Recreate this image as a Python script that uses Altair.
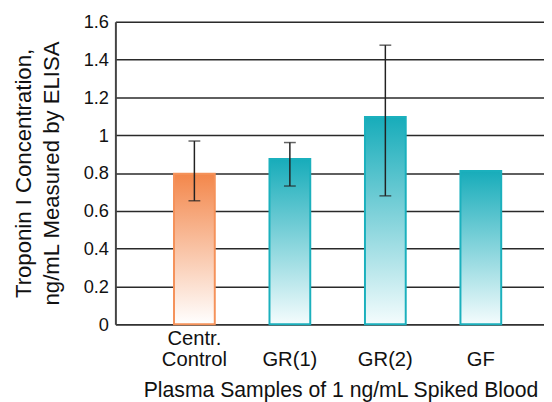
import altair as alt
import pandas as pd

categories = ["Centr. Control", "GR(1)", "GR(2)", "GF"]
groups = ["control", "sample", "sample", "sample"]
values = [0.796, 0.874, 1.096, 0.811]
err_low = [0.653, 0.731, 0.679, None]
err_high = [0.969, 0.961, 1.476, None]
y_ticks = [0, 0.2, 0.4, 0.6, 0.8, 1.0, 1.2, 1.4, 1.6]

df = pd.DataFrame({
    "sample": categories,
    "group": groups,
    "value": values,
    "lo": err_low,
    "hi": err_high,
})

FONT = "Liberation Sans"

orange_grad = {
    "gradient": "linear", "x1": 0, "y1": 0, "x2": 0, "y2": 1,
    "stops": [{"offset": 0, "color": "#F3874B"}, {"offset": 1, "color": "#FFFFFF"}],
}
teal_grad = {
    "gradient": "linear", "x1": 0, "y1": 0, "x2": 0, "y2": 1,
    "stops": [{"offset": 0, "color": "#17ACBA"}, {"offset": 1, "color": "#F4FCFD"}],
}

x_enc = alt.X(
    "sample:N",
    sort=categories,
    scale=alt.Scale(domain=categories, paddingInner=0.573, paddingOuter=0.531, align=0.578),
    axis=alt.Axis(
        title="Plasma Samples of 1 ng/mL Spiked Blood",
        labelExpr="datum.value === 'Centr. Control' ? ['Centr.', 'Control'] : ['', datum.value]",
        labelAngle=0,
        labelBaseline="top",
        labelPadding=5,
        labelLineHeight=20.5,
        labelFontSize=20.5,
        labelColor="#111",
        ticks=False,
        domainColor="#333",
        domainWidth=1.5,
        titleX=228.5,
        titleY=73,
        titleBaseline="alphabetic",
        titleFontSize=21.5,
        titleFontWeight="normal",
        titleColor="#111",
    ),
)

y_scale = alt.Scale(domain=[0, 1.6], nice=False)
y_axis = alt.Axis(
    values=y_ticks,
    format="~g",
    grid=True,
    gridColor="#2a2a2a",
    gridWidth=1.5,
    ticks=False,
    labelPadding=7,
    labelFontSize=18.5,
    labelColor="#111",
    domainColor="#444",
    domainWidth=2,
    title=["Troponin I Concentration,", "ng/mL Measured by ELISA"],
    titleX=-104,
    titleY=153.5,
    titleAngle=-90,
    titleAlign="center",
    titleBaseline="top",
    titleLineHeight=28,
    titleFontSize=22.5,
    titleFontWeight="normal",
    titleColor="#111",
)

base = alt.Chart(df).encode(x=x_enc)

bar_control = base.transform_filter("datum.group === 'control'").mark_bar(
    fill=orange_grad, stroke="#F5925A", strokeWidth=2
).encode(y=alt.Y("value:Q", scale=y_scale, axis=y_axis))

bar_sample = base.transform_filter("datum.group === 'sample'").mark_bar(
    fill=teal_grad, stroke="#1BB0BD", strokeWidth=2
).encode(y=alt.Y("value:Q", scale=y_scale, axis=y_axis))

err = base.transform_filter("isValid(datum.lo)")
err_rule = err.mark_rule(color="#222", strokeWidth=1.5).encode(
    y=alt.Y("lo:Q", scale=y_scale, axis=y_axis), y2="hi:Q"
)
cap_lo = err.mark_tick(color="#222", size=12, thickness=1.5, orient="horizontal").encode(
    y=alt.Y("lo:Q", scale=y_scale, axis=y_axis)
)
cap_hi = err.mark_tick(color="#222", size=12, thickness=1.5, orient="horizontal").encode(
    y=alt.Y("hi:Q", scale=y_scale, axis=y_axis)
)

chart = alt.layer(bar_control, bar_sample, err_rule, cap_lo, cap_hi).properties(
    width=435,
    height=307,
    autosize=alt.AutoSizeParams(type="none"),
    padding={"left": 109, "top": 11, "right": 0, "bottom": 76},
    background="white",
).configure_view(stroke=None).configure(font=FONT)

chart.save("out.html", embed_options={"renderer": "svg", "actions": False})
